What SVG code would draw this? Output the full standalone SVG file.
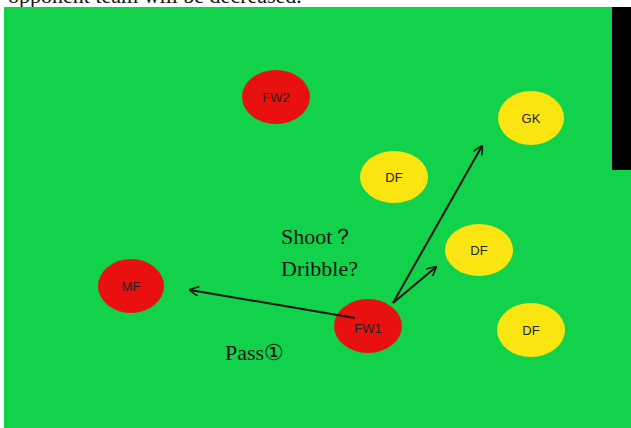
<svg xmlns="http://www.w3.org/2000/svg" width="631" height="428" viewBox="0 0 631 428">
<style>
.r{fill:#e8110f}.y{fill:#fbe511}
.l{font-family:"Liberation Sans",Arial,sans-serif;font-size:13px;fill:#222;text-anchor:middle;dominant-baseline:central}
.s{font-family:"Liberation Serif","Times New Roman",serif;font-size:22px;fill:#111}
.c{stroke:#111;stroke-width:2;fill:none}
</style>
<defs><marker id="a" viewBox="0 0 10 10" refX="9" refY="5" markerWidth="10" markerHeight="10" markerUnits="userSpaceOnUse" orient="auto"><path d="M0,0L10,5L0,10" fill="none" stroke="#111" stroke-width="1.5"/></marker></defs>
<rect width="631" height="428" fill="#fff"/>
<text x="8" y="3" class="s" font-size="20">opponent team will be decreased.</text>
<rect x="4" y="7" width="627" height="421" fill="#12d14b"/>
<rect x="612" y="7" width="19" height="163" fill="#000"/>
<g id="FW2"><ellipse class="r" cx="276" cy="97" rx="34" ry="27"/><text class="l" x="276" y="97" font-size="10">FW2</text></g>
<g id="GK"><ellipse class="y" cx="531" cy="118" rx="33" ry="27"/><text class="l" x="531" y="118">GK</text></g>
<g id="DF1"><ellipse class="y" cx="394" cy="177" rx="34" ry="26"/><text class="l" x="394" y="177">DF</text></g>
<g id="DF2"><ellipse class="y" cx="479" cy="250" rx="34" ry="26"/><text class="l" x="479" y="250">DF</text></g>
<g id="MF"><ellipse class="r" cx="131" cy="286" rx="33" ry="27"/><text class="l" x="131" y="286">MF</text></g>
<g id="FW1"><ellipse class="r" cx="368" cy="326" rx="34" ry="27"/><text class="l" x="368" y="328" font-size="10">FW1</text></g>
<g id="DF3"><ellipse class="y" cx="531" cy="330" rx="34" ry="27"/><text class="l" x="531" y="330" font-size="11">DF</text></g>
<g id="connectors">
<line class="c" x1="393" y1="303" x2="482" y2="146" marker-end="url(#a)"/>
<line class="c" x1="393" y1="303" x2="436" y2="267" marker-end="url(#a)"/>
<line class="c" x1="355" y1="318" x2="190" y2="290" marker-end="url(#a)"/>
</g>
<text class="s" x="281" y="244">Shoot？</text>
<text class="s" x="281" y="276">Dribble?</text>
<text class="s" x="225" y="360">Pass①</text>
</svg>
